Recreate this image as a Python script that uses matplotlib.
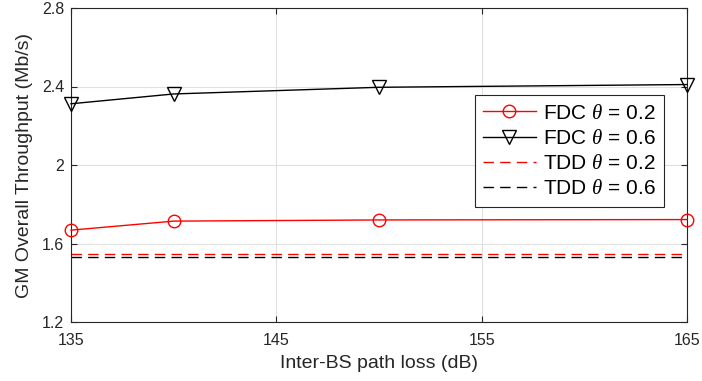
import matplotlib
matplotlib.use("Agg")
import matplotlib.pyplot as plt

plt.rcParams['font.family'] = ['Liberation Sans', 'DejaVu Sans']
plt.rcParams['mathtext.fontset'] = 'custom'
plt.rcParams['mathtext.it'] = 'Liberation Serif:italic'
plt.rcParams['mathtext.rm'] = 'Liberation Sans'

# Inter-BS path loss (dB)
path_loss = [135, 140, 150, 165]
fdc_02 = [1.668, 1.714, 1.720, 1.722]
fdc_06 = [2.312, 2.362, 2.396, 2.410]
tdd_02 = 1.549
tdd_06 = 1.530

xticks = [135, 145, 155, 165]
yticks = [1.2, 1.6, 2.0, 2.4, 2.8]
ytick_labels = ['1.2', '1.6', '2', '2.4', '2.8']

ink = '#262626'

fig = plt.figure(figsize=(7.02, 3.81), dpi=100)
ax = fig.add_axes([71/702, 1 - 322/381, 616/702, 314/381])

ax.plot(path_loss, fdc_02, color='red', lw=1.0, marker='o', ms=9,
        mfc='none', mec='red', mew=1.0, clip_on=False, zorder=4,
        label=r'FDC $\theta$ = 0.2')
ax.plot(path_loss, fdc_06, color='black', lw=1.0, marker='v', ms=10,
        mfc='none', mec='black', mew=1.0, clip_on=False, zorder=4,
        label=r'FDC $\theta$ = 0.6')
ax.plot([path_loss[0], path_loss[-1]], [tdd_02, tdd_02], color='red',
        lw=1.0, dashes=(7.5, 4.5), label=r'TDD $\theta$ = 0.2')
ax.plot([path_loss[0], path_loss[-1]], [tdd_06, tdd_06], color='black',
        lw=1.0, dashes=(7.5, 4.5), label=r'TDD $\theta$ = 0.6')

ax.set_xlim(135, 165)
ax.set_ylim(1.2, 2.8)
ax.set_xticks(xticks)
ax.set_yticks(yticks)
ax.set_yticklabels(ytick_labels)
ax.grid(True, color='#e0e0e0', lw=0.8)
ax.set_axisbelow(True)
ax.tick_params(direction='in', top=True, right=True, length=4, width=0.8,
               colors=ink, labelsize=11.5, pad=5)
ax.tick_params(axis='x', pad=8)
for s in ax.spines.values():
    s.set_color(ink)
    s.set_linewidth(0.8)

ax.set_xlabel('Inter-BS path loss (dB)', fontsize=14, color=ink, labelpad=5)
ax.set_ylabel('GM Overall Throughput (Mb/s)', fontsize=14, color=ink, labelpad=6)

leg = ax.legend(loc='upper left', bbox_to_anchor=(0.656, 0.722),
                fontsize=15, frameon=True, fancybox=False, edgecolor=ink,
                framealpha=1, handlelength=2.5, handletextpad=0.35,
                borderpad=0.4, labelspacing=0.3, borderaxespad=0)
leg.get_frame().set_linewidth(0.8)

fig.savefig('out.png', dpi=100)
